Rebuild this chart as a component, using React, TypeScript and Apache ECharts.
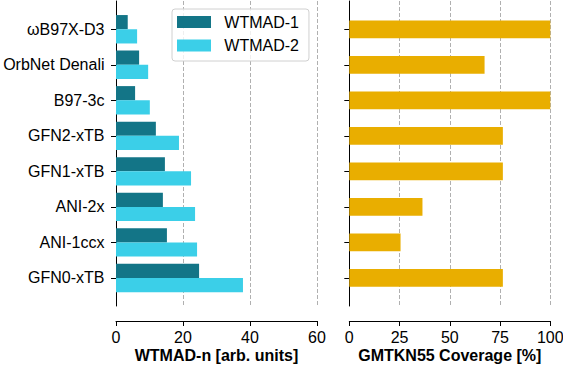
import React, { useEffect, useRef } from "react";
import * as echarts from "echarts";

const methods = ["ωB97X-D3", "OrbNet Denali", "B97-3c", "GFN2-xTB", "GFN1-xTB", "ANI-2x", "ANI-1ccx", "GFN0-xTB"];
const wtmad1 = [3.5, 6.9, 5.7, 11.9, 14.6, 14.0, 15.2, 24.8];
const wtmad2 = [6.3, 9.6, 10.1, 18.8, 22.4, 23.6, 24.2, 37.9];
const coverage = [100, 67.3, 100, 76.4, 76.4, 36.4, 25.5, 76.4];
const wtmadRange = { min: 0, max: 60, interval: 20 };
const coverageRange = { min: 0, max: 100, interval: 25 };

const FONT = "'Liberation Sans', Arial, sans-serif";
const FS = 16;

export default function App() {
  const ref = useRef<HTMLDivElement>(null);
  useEffect(() => {
    if (!ref.current) return;
    const chart = echarts.init(ref.current, undefined, { renderer: "svg" });
    const L = 116, LW = 201, R = 349.3, RW = 201;
    const fullTop = 1, fullH = 305;
    const barTop = 11.5, barH = 284.2;
    const gridLine = { show: true, lineStyle: { type: [4, 2], color: "#b0b0b0", width: 1 } };
    const spineX = (range: any, name: string, gridIndex: number) => ({
      gridIndex,
      type: "value",
      min: range.min,
      max: range.max,
      interval: range.interval,
      offset: 15,
      axisLine: { show: true, onZero: false, lineStyle: { color: "#000", width: 1 } },
      axisTick: { show: true, length: 5, lineStyle: { color: "#000", width: 1 } },
      axisLabel: { fontSize: FS, color: "#000", fontFamily: FONT, margin: 8.5 },
      splitLine: gridLine,
      name,
      nameLocation: "middle",
      nameGap: 26,
      nameMoveOverlap: false,
      nameTextStyle: { fontSize: FS, lineHeight: 16, fontWeight: "bold", color: "#000", fontFamily: FONT },
    });
    const hiddenX = (range: any, gridIndex: number) => ({
      gridIndex, type: "value", min: range.min, max: range.max, show: false,
    });
    const spineY = (gridIndex: number) => ({
      gridIndex, type: "value", min: 0, max: 1,
      axisLine: { show: true, onZero: false, lineStyle: { color: "#000", width: 1 } },
      axisTick: { show: false }, axisLabel: { show: false }, splitLine: { show: false },
    });
    const catY = (gridIndex: number, labels: boolean) => ({
      gridIndex, type: "category", data: methods, inverse: true,
      axisLine: { show: false },
      axisTick: { show: true, alignWithLabel: true, length: 5, lineStyle: { color: "#000", width: 1 } },
      axisLabel: { show: labels, fontSize: FS, color: "#000", fontFamily: FONT, margin: 11.5 },
      splitLine: { show: false },
    });
    chart.setOption({
      animation: false,
      textStyle: { fontFamily: FONT },
      grid: [
        { left: L, top: fullTop, width: LW, height: fullH, outerBoundsMode: "none" },
        { left: L, top: barTop, width: LW, height: barH, outerBoundsMode: "none" },
        { left: R, top: fullTop, width: RW, height: fullH, outerBoundsMode: "none" },
        { left: R, top: barTop, width: RW, height: barH, outerBoundsMode: "none" },
      ],
      xAxis: [
        spineX(wtmadRange, "WTMAD-n [arb. units]", 0),
        hiddenX(wtmadRange, 1),
        spineX(coverageRange, "GMTKN55 Coverage [%]", 2),
        hiddenX(coverageRange, 3),
      ],
      yAxis: [spineY(0), catY(1, true), spineY(2), catY(3, false)],
      legend: {
        data: ["WTMAD-1", "WTMAD-2"],
        orient: "vertical",
        left: 172,
        top: 9,
        icon: "rect",
        itemWidth: 34,
        itemHeight: 12,
        itemGap: 7.5,
        padding: [5, 10, 7.5, 5],
        borderColor: "#d0d0d0",
        borderWidth: 1,
        borderRadius: 3,
        backgroundColor: "rgba(255,255,255,0.8)",
        selectedMode: false,
        textStyle: { fontSize: FS, color: "#000", fontFamily: FONT, padding: [0, 0, 0, 8.3] },
      },
      series: [
        {
          type: "bar", name: "WTMAD-1", xAxisIndex: 1, yAxisIndex: 1, data: wtmad1,
          itemStyle: { color: "#137587" }, barGap: "0%", barCategoryGap: "20%",
        },
        {
          type: "bar", name: "WTMAD-2", xAxisIndex: 1, yAxisIndex: 1, data: wtmad2,
          itemStyle: { color: "#3bcfe8" }, barGap: "0%", barCategoryGap: "20%",
        },
        {
          type: "bar", name: "GMTKN55 Coverage", xAxisIndex: 3, yAxisIndex: 3, data: coverage,
          itemStyle: { color: "#e9ae00" }, barWidth: "50%",
        },
      ],
    });
    return () => chart.dispose();
  }, []);
  return (
    <div
      ref={ref}
      style={{ position: "fixed", left: 0, top: 0, width: 563, height: 365, background: "#fff" }}
    />
  );
}
